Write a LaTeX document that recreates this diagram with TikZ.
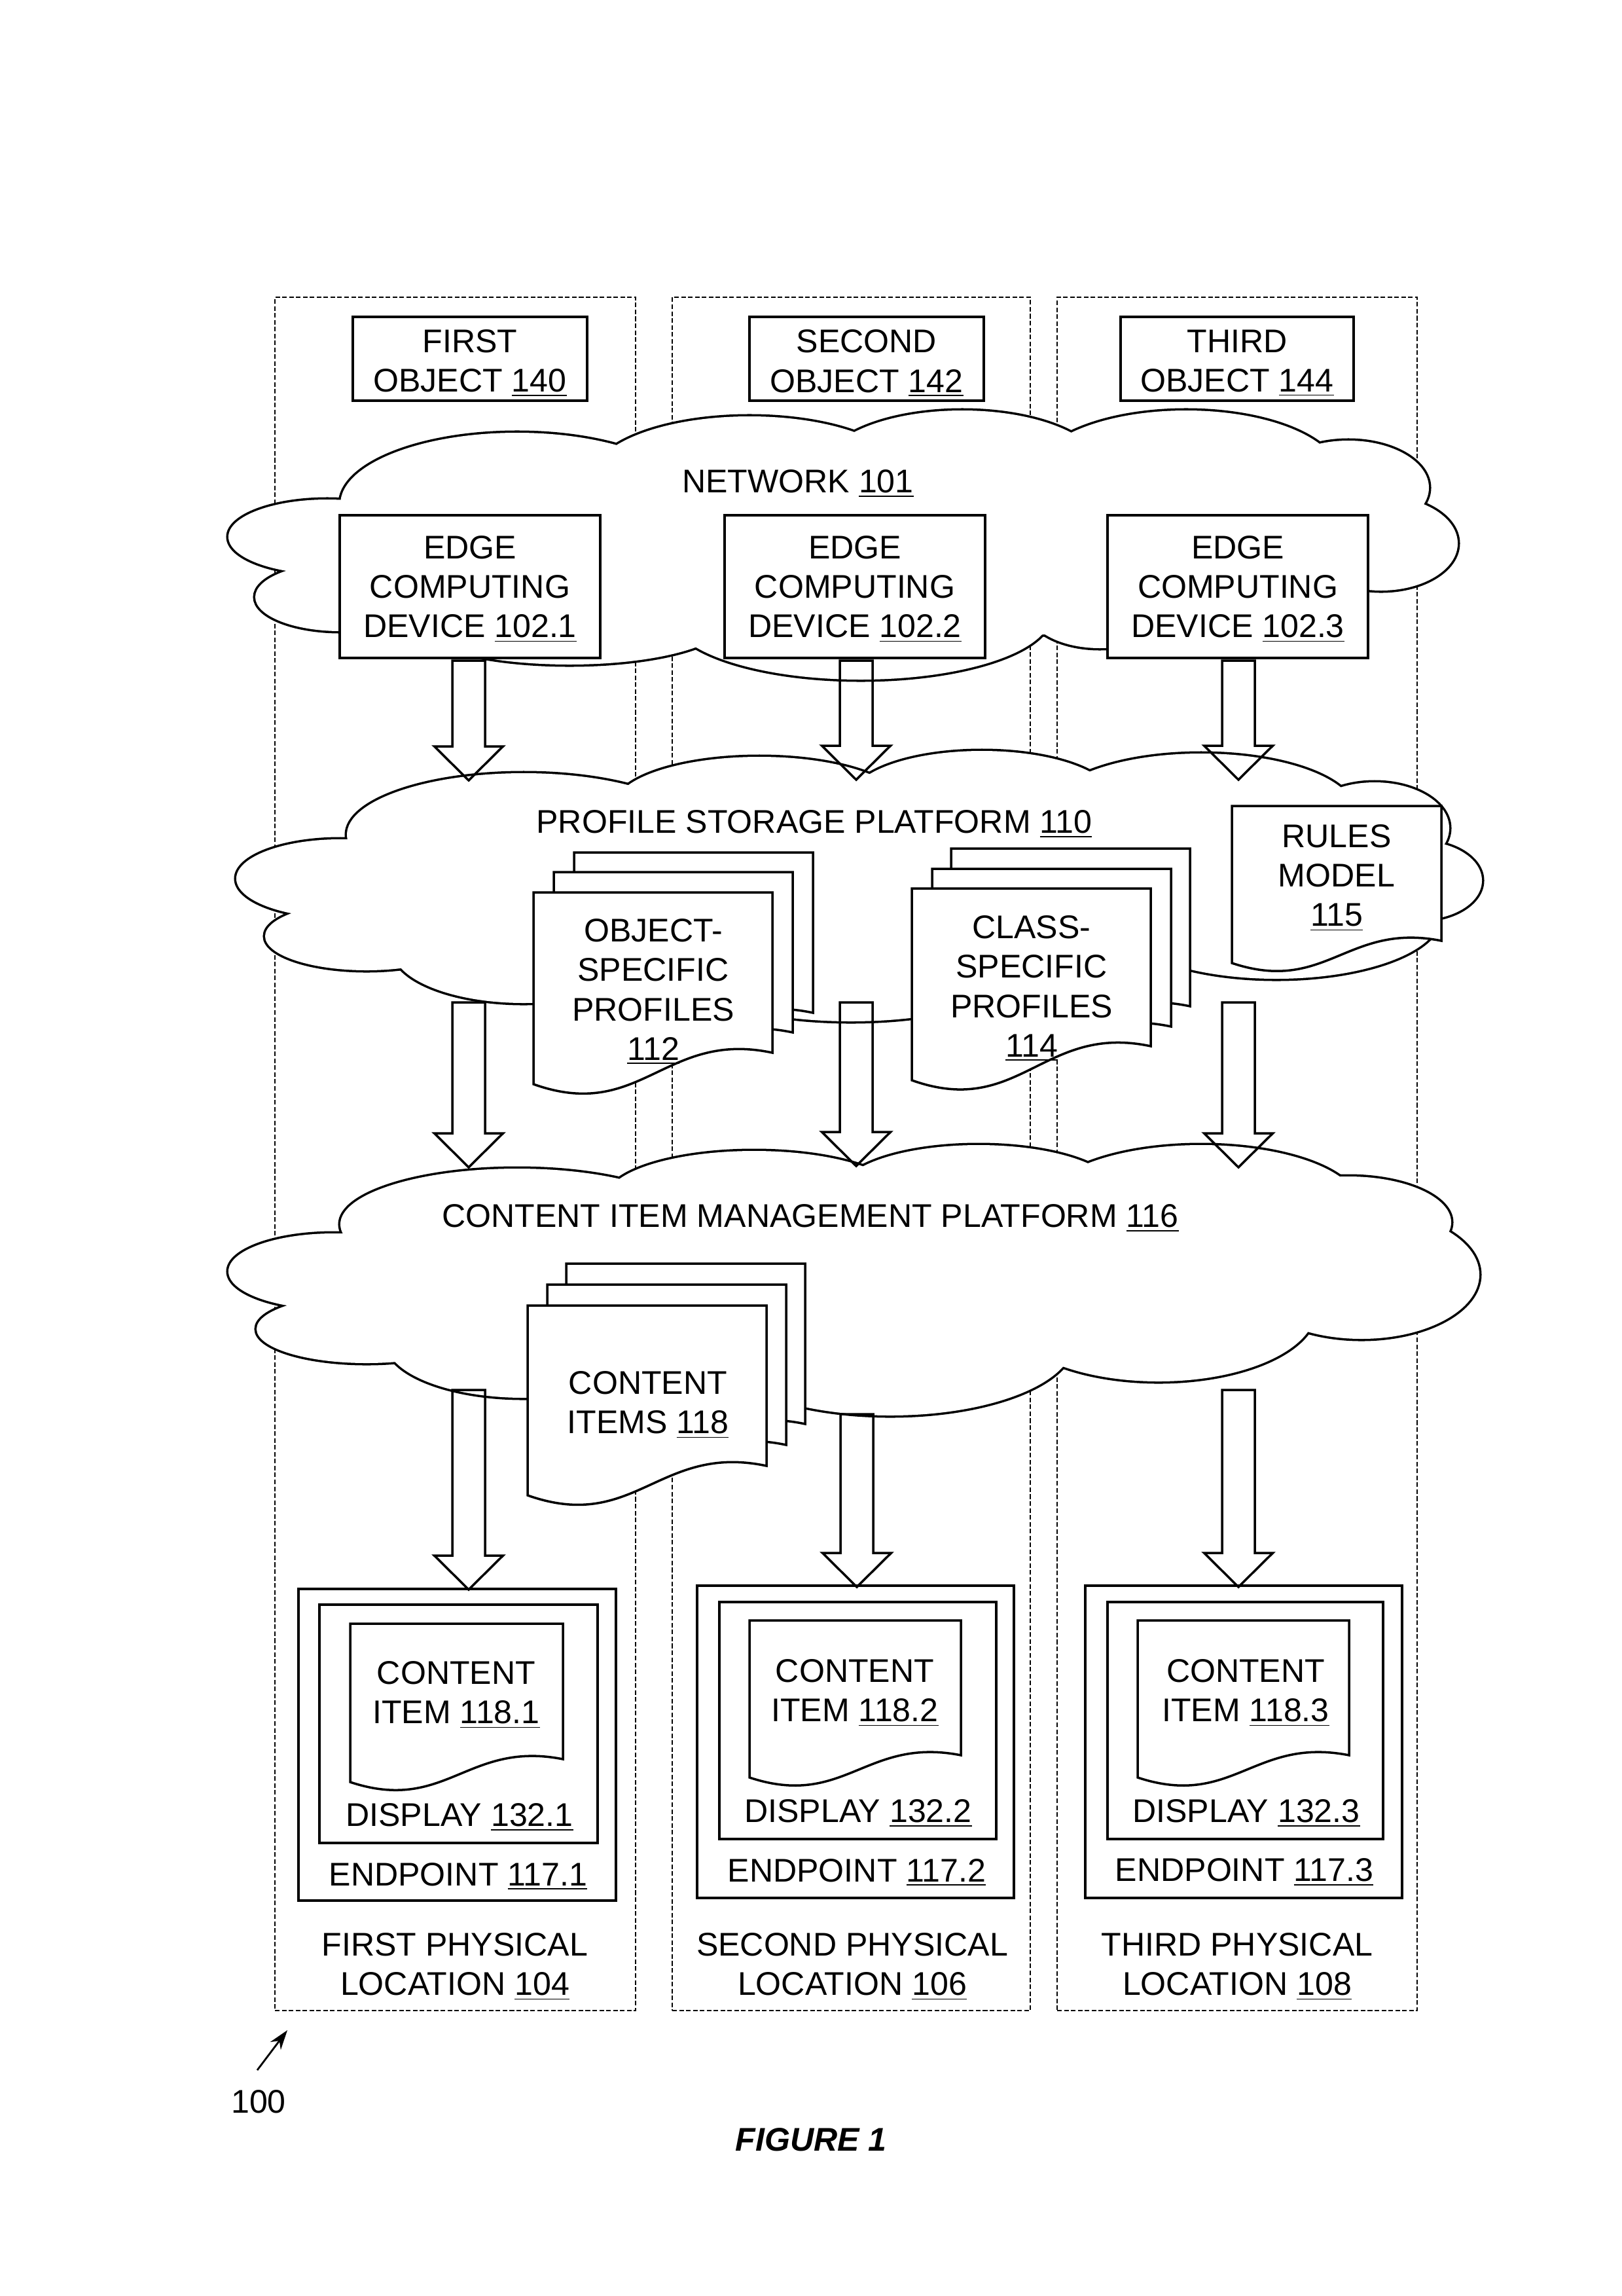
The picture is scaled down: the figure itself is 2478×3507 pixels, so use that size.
\documentclass[tikz,border=0pt]{standalone}
\usepackage{fontspec}
\setmainfont{Liberation Sans}
\usetikzlibrary{calc,arrows.meta}

\newcommand{\refn}[1]{\underline{#1}}

% document shape: x y w h d  (pixel units, y downwards)
\newcommand{\docshape}[5]{%
  \path[docstyle] (#1,#2) -- ({#1+#3},#2) -- ({#1+#3},{#2+#4-#5})
    .. controls ({#1+0.55*#3},{#2+#4-#5-0.12*#4}) and ({#1+0.45*#3},{#2+1.2*#4}) .. (#1,{#2+#4}) -- cycle;}

% cloud as union of ellipses: list of cx/cy/rx/ry
\newcommand{\drawcloud}[1]{%
  \foreach \cx/\cy/\rx/\ry in {#1} {\draw[line width=2pt] (\cx,\cy) ellipse [x radius=\rx, y radius=\ry];}
  \foreach \cx/\cy/\rx/\ry in {#1} {\fill[white] (\cx,\cy) ellipse [x radius=\rx, y radius=\ry];}}

% hollow block arrow between two named coordinates
\newcommand{\blockarrow}[2]{%
  \draw[blockline] let \p1=(#1), \p2=(#2) in
    (\x1-2.5mm,\y1) -- (\x1+2.5mm,\y1) -- (\x1+2.5mm,\y2+5.2mm) -- (\x1+5.25mm,\y2+5.2mm)
    -- (\x1,\y2) -- (\x1-5.25mm,\y2+5.2mm) -- (\x1-2.5mm,\y2+5.2mm) -- cycle;}

\tikzset{
  txt/.style={inner sep=0pt, align=center, yshift=-0.4mm, font=\fontsize{14.25}{17.1}\selectfont},
  box/.style={draw, line width=1pt, fill=white, inner sep=0pt},
  colbox/.style={draw, line width=0.6pt, dash pattern=on 2pt off 1pt, inner sep=0pt, minimum height=261.7mm},
  docstyle/.style={draw, line width=1pt, fill=white, line join=miter},
  blockline/.style={draw, line width=1pt, line join=miter},
}

\begin{document}
\begin{tikzpicture}[x=0.1mm, y=-0.1mm]
\useasboundingbox (0,0) rectangle (2478,3507);

% physical location columns
\node[colbox, minimum width=55.1mm] (loc1) at (695.5,1762.5) {};
\node[colbox, minimum width=54.7mm] (loc2) at (1300.5,1762.5) {};
\node[colbox, minimum width=55.0mm] (loc3) at (1890,1762.5) {};

% objects
\node[box, minimum width=35.8mm, minimum height=12.8mm] (obj1) at (718,548) {};
\node[box, minimum width=35.8mm, minimum height=12.8mm] (obj2) at (1324,548) {};
\node[box, minimum width=35.6mm, minimum height=12.8mm] (obj3) at (1890,548) {};
\node[txt, yshift=-0.3mm] (obj1t) at (obj1) {FIRST\\OBJECT \refn{140}};
\node[txt, yshift=-0.3mm] (obj2t) at (obj2) {SECOND\\OBJECT \refn{142}};
\node[txt, yshift=-0.3mm] (obj3t) at (obj3) {THIRD\\OBJECT \refn{144}};

% network cloud
\drawcloud{790/770/270/109, 1145/730/240/94, 1470/717/213/90, 1812/727/234/100, 2060/745/123/72, 2110/830/117/72, 500/820/151/57, 520/912/130/52, 870/950/240/65, 1315/940/290/98, 1680/930/110/60, 1300/840/760/140}
\node[txt] (net) at (1219,735) {NETWORK \refn{101}};

% edge computing devices
\node[box, minimum width=39.8mm, minimum height=21.8mm] (edge1) at (718,896) {};
\node[box, minimum width=39.8mm, minimum height=21.8mm] (edge2) at (1306,896) {};
\node[box, minimum width=39.8mm, minimum height=21.8mm] (edge3) at (1891,896) {};
\node[txt] (edge1t) at (edge1) {EDGE\\COMPUTING\\DEVICE \refn{102.1}};
\node[txt] (edge2t) at (edge2) {EDGE\\COMPUTING\\DEVICE \refn{102.2}};
\node[txt] (edge3t) at (edge3) {EDGE\\COMPUTING\\DEVICE \refn{102.3}};

% profile storage platform cloud
\drawcloud{800/1275/270/94, 1160/1230/220/74, 1500/1220/200/73, 1835/1240/235/89, 2100/1265/114/70, 2170/1345/94/60, 1950/1400/250/95, 1300/1480/260/80, 520/1342/159/60, 560/1430/155/52, 800/1450/200/82, 1300/1360/780/140}
\node[txt] (psp) at (1244,1255) {PROFILE STORAGE PLATFORM \refn{110}};

\docshape{877}{1302}{365}{293}{48}
\docshape{846}{1332}{365}{293}{48}
\docshape{815}{1363}{365}{293}{48}
\node[txt] (osp) at (998,1511) {OBJECT-\\SPECIFIC\\PROFILES\\\refn{112}};

\docshape{1453}{1296}{365}{293}{52}
\docshape{1424}{1327}{365}{293}{52}
\docshape{1393}{1357}{365}{293}{52}
\node[txt] (csp) at (1576,1506) {CLASS-\\SPECIFIC\\PROFILES\\\refn{114}};

\docshape{1882}{1231}{320}{240}{34}
\node[txt] (rules) at (2042,1337) {RULES\\MODEL\\\refn{115}};

% content item management platform cloud
\drawcloud{790/1870/270/85, 1152/1830/225/72, 1495/1820/210/71, 1835/1840/240/91, 2060/1867/157/70, 2080/1947/180/98, 1770/2000/240/110, 1360/2050/280/112, 510/1942/161/58, 560/2030/168/52, 800/2050/210/85, 1300/1960/780/140}
\node[txt] (cimp) at (1238,1857) {CONTENT ITEM MANAGEMENT PLATFORM \refn{116}};

\docshape{865}{1930}{365}{290}{45}
\docshape{836}{1962}{365}{290}{45}
\docshape{806}{1994}{365}{290}{45}
\node[txt] (citems) at (990,2142) {CONTENT\\ITEMS \refn{118}};

% endpoints
\node[box, minimum width=48.5mm, minimum height=47.6mm] (ep1) at (698.5,2665) {};
\node[box, minimum width=42.5mm, minimum height=36.4mm] (disp1) at (700.5,2633) {};
\docshape{535}{2480}{325}{242}{35}
\node[txt] (ci1) at (697,2585) {CONTENT\\ITEM \refn{118.1}};
\node[txt] (disp1t) at (702,2772) {DISPLAY \refn{132.1}};
\node[txt] (ep1t) at (700,2862) {ENDPOINT \refn{117.1}};

\node[box, minimum width=48.4mm, minimum height=47.7mm] (ep2) at (1307,2660.5) {};
\node[box, minimum width=42.3mm, minimum height=36.2mm] (disp2) at (1310.5,2628) {};
\docshape{1145}{2475}{323}{240}{34}
\node[txt] (ci2) at (1306,2582) {CONTENT\\ITEM \refn{118.2}};
\node[txt] (disp2t) at (1311,2766) {DISPLAY \refn{132.2}};
\node[txt] (ep2t) at (1309,2856) {ENDPOINT \refn{117.2}};

\node[box, minimum width=48.4mm, minimum height=47.7mm] (ep3) at (1900,2660.5) {};
\node[box, minimum width=42.1mm, minimum height=36.2mm] (disp3) at (1902.5,2628) {};
\docshape{1738}{2475}{323}{240}{34}
\node[txt] (ci3) at (1903,2582) {CONTENT\\ITEM \refn{118.3}};
\node[txt] (disp3t) at (1904,2766) {DISPLAY \refn{132.3}};
\node[txt] (ep3t) at (1901,2856) {ENDPOINT \refn{117.3}};

% location labels
\node[txt] (loc1t) at (695,3000) {FIRST PHYSICAL\\LOCATION \refn{104}};
\node[txt] (loc2t) at (1302,3000) {SECOND PHYSICAL\\LOCATION \refn{106}};
\node[txt] (loc3t) at (1890,3000) {THIRD PHYSICAL\\LOCATION \refn{108}};

% block arrows
\coordinate (a1s) at (716,1009);  \coordinate (a1e) at (716,1192);
\coordinate (a2s) at (1308,1009); \coordinate (a2e) at (1308,1191);
\coordinate (a3s) at (1892,1009); \coordinate (a3e) at (1892,1191);
\coordinate (b1s) at (716,1531);  \coordinate (b1e) at (716,1783);
\coordinate (b2s) at (1308,1531); \coordinate (b2e) at (1308,1781);
\coordinate (b3s) at (1892,1531); \coordinate (b3e) at (1892,1783);
\coordinate (c1s) at (716,2123);  \coordinate (c1e) at (716,2428);
\coordinate (c2s) at (1309,2160); \coordinate (c2e) at (1309,2424);
\coordinate (c3s) at (1892,2123); \coordinate (c3e) at (1892,2424);
\blockarrow{a1s}{a1e}\blockarrow{a2s}{a2e}\blockarrow{a3s}{a3e}
\blockarrow{b1s}{b1e}\blockarrow{b2s}{b2e}\blockarrow{b3s}{b3e}
\blockarrow{c1s}{c1e}\blockarrow{c2s}{c2e}\blockarrow{c3s}{c3e}

% reference numeral and caption
\node[txt] (n100) at (395,3206) {100};
\coordinate (p100a) at (393,3162);
\coordinate (p100b) at (439,3101);
\draw[line width=0.8pt, -{Stealth[length=3mm, width=2mm]}] (p100a) -- (p100b);
\node[txt, font=\fontsize{14.25}{17.1}\selectfont\bfseries\itshape] (fig) at (1239,3264) {FIGURE 1};
\end{tikzpicture}
\end{document}
